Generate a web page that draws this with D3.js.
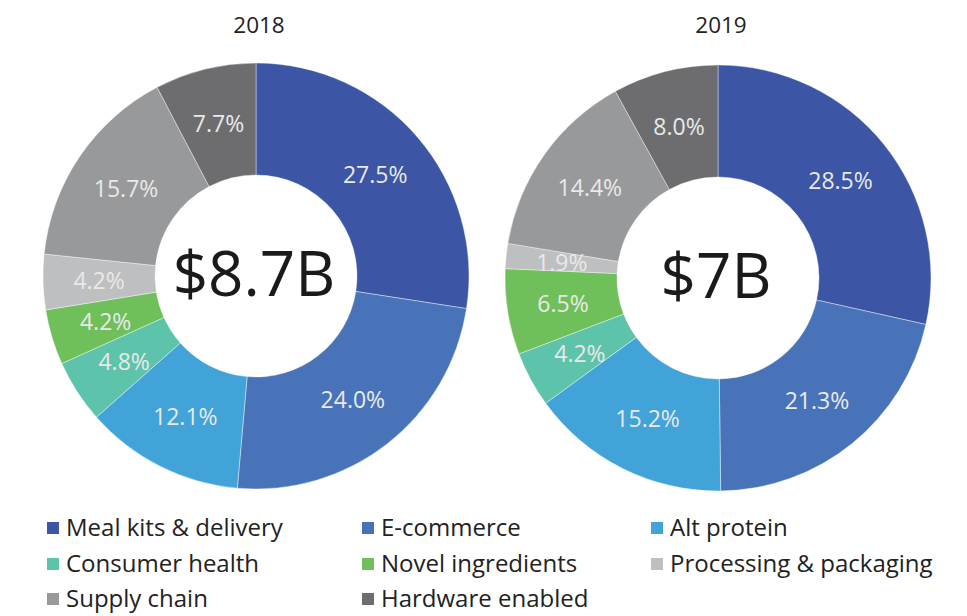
<!DOCTYPE html>
<html>
<head>
<meta charset="utf-8">
<script src="https://cdn.jsdelivr.net/npm/d3@7"></script>
<style>
  body { margin: 0; background: #fff; }
  text { font-family: "Open Sans", sans-serif; }
</style>
</head>
<body>
<svg></svg>
<script>
// chart data
var categories = ["Meal kits & delivery", "E-commerce", "Alt protein", "Consumer health",
                  "Novel ingredients", "Processing & packaging", "Supply chain", "Hardware enabled"]
var values2018 = [27.5, 24.0, 12.1, 4.8, 4.2, 4.2, 15.7, 7.7]
var values2019 = [28.5, 21.3, 15.2, 4.2, 6.5, 1.9, 14.4, 8.0]
var years = ["2018", "2019"]
var totals = ["$8.7B", "$7B"]
var colors = ["#3c55a5", "#4873b8", "#42a3d9", "#5dc3ab", "#6fbf5a", "#bebfc1", "#98999b", "#6d6d6f"]

var screen = {width: 967, height: 616}
var outerR = 213, innerR = 101

var svg = d3.select("svg")
  .attr("width", screen.width)
  .attr("height", screen.height)

var color = d3.scaleOrdinal().domain(categories).range(colors)

var pie = d3.pie().sort(null).value(function(d){ return d.value })
var arc = d3.arc().innerRadius(innerR).outerRadius(outerR)

var charts = [
  {year: years[0], total: totals[0], values: values2018, cx: 256, cy: 276},
  {year: years[1], total: totals[1], values: values2019, cx: 718, cy: 278}
]

charts.forEach(function(c){
  var data = categories.map(function(k, i){ return {key: k, value: c.values[i]} })

  svg.append("text")
    .attr("x", c.cx + 3)
    .attr("y", 33)
    .attr("text-anchor", "middle")
    .attr("font-size", 22.5)
    .attr("fill", "#222")
    .text(c.year)

  var g = svg.append("g")
    .attr("transform", "translate(" + c.cx + "," + c.cy + ")")

  var slices = pie(data)

  g.selectAll("path")
    .data(slices)
    .enter()
    .append("path")
    .attr("d", arc)
    .attr("fill", function(d){ return color(d.data.key) })
    .attr("stroke", "#fff")
    .attr("stroke-width", 0.4)

  g.selectAll(".lbl")
    .data(slices)
    .enter()
    .append("text")
    .attr("class", "lbl")
    .attr("transform", function(d){ return "translate(" + arc.centroid(d) + ")" })
    .attr("text-anchor", "middle")
    .attr("dy", "0.38em")
    .attr("font-size", 23)
    .attr("fill", "#e9e9e9")
    .text(function(d){ return d.data.value.toFixed(1) + "%" })

  g.append("text")
    .attr("text-anchor", "middle")
    .attr("x", -2)
    .attr("y", 20)
    .attr("font-size", 62)
    .attr("fill", "#1a1a1a")
    .text(c.total)
})

// legend, three columns
var legendX = [47, 362, 651]
var legendY = [528, 564, 599]

var legend = svg.selectAll(".legend")
  .data(categories)
  .enter()
  .append("g")
  .attr("class", "legend")
  .attr("transform", function(d, i){
    return "translate(" + legendX[i % 3] + "," + legendY[Math.floor(i / 3)] + ")"
  })

legend.append("rect")
  .attr("x", 0)
  .attr("y", -6)
  .attr("width", 12)
  .attr("height", 12)
  .attr("fill", function(d){ return color(d) })

legend.append("text")
  .attr("x", 19)
  .attr("dy", "0.35em")
  .attr("font-size", 24)
  .attr("fill", "#222")
  .text(function(d){ return d })
</script>
</body>
</html>
